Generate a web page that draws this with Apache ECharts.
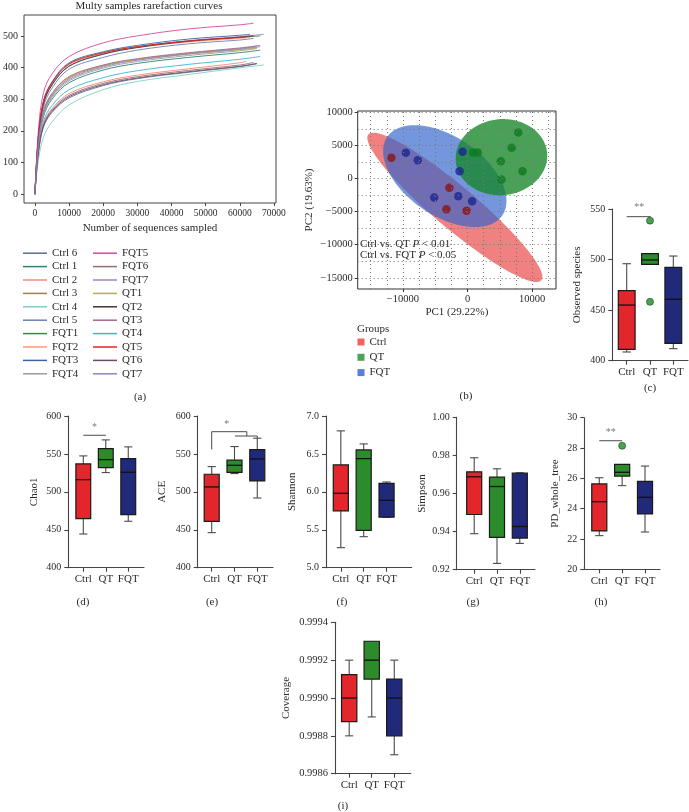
<!DOCTYPE html>
<html><head><meta charset="utf-8">
<script src="https://cdn.jsdelivr.net/npm/echarts@6/dist/echarts.min.js"></script>
<style>html,body{margin:0;padding:0;background:#fff}#c{width:689px;height:812px}</style>
</head><body><div id="c"></div>
<script>
// ===================== DATA =====================
// (a) rarefaction curves: sampled depths, then end depth per sample
const rareX = [0, 1000, 2500, 5000, 10000, 20000, 30000, 45000, 60000];
const rareNames = ['Ctrl 6','Ctrl 1','Ctrl 2','Ctrl 3','Ctrl 4','Ctrl 5','FQT1','FQT2','FQT3','FQT4',
                   'FQT5','FQT6','FQT7','QT1','QT2','QT3','QT4','QT5','QT6','QT7'];
const rareEndX = [65000,66000,62000,65000,67000,64000,66000,63000,63000,65000,
                  64000,64000,67000,65000,64000,66000,66000,62000,65000,66000];
const rareCtrl6 = [0,128,212,258,304,343,365,385,403,412];
const rareCtrl1 = [0,148,245,300,352,392,413,432,447,455];
const rareCtrl2 = [0,135,222,270,318,355,376,396,415,420];
const rareCtrl3 = [0,158,258,313,366,405,426,445,460,467];
const rareCtrl4 = [0,105,180,228,282,330,356,378,399,408];
const rareCtrl5 = [0,165,275,335,395,432,455,475,487,492];
const rareFQT1 = [0,178,290,350,410,446,466,484,495,500];
const rareFQT2 = [0,182,293,353,410,445,464,481,492,495];
const rareFQT3 = [0,180,295,355,415,450,470,490,502,505];
const rareFQT4 = [0,150,250,305,358,398,419,438,453,460];
const rareFQT5 = [0,200,320,380,435,478,500,522,535,540];
const rareFQT6 = [0,132,218,266,312,350,371,391,408,416];
const rareFQT7 = [0,175,285,345,405,443,465,485,498,505];
const rareQT1 = [0,160,262,318,372,407,425,442,456,462];
const rareQT2 = [0,172,285,345,404,442,463,483,496,500];
const rareQT3 = [0,160,262,318,370,408,428,447,462,470];
const rareQT4 = [0,140,230,280,330,368,390,410,426,435];
const rareQT5 = [0,180,292,352,412,447,466,484,495,497];
const rareQT6 = [0,130,215,262,308,346,367,387,404,413];
const rareQT7 = [0,155,255,310,362,402,423,443,458,466];
const rareValues = [rareCtrl6,rareCtrl1,rareCtrl2,rareCtrl3,rareCtrl4,rareCtrl5,rareFQT1,rareFQT2,rareFQT3,rareFQT4,
                    rareFQT5,rareFQT6,rareFQT7,rareQT1,rareQT2,rareQT3,rareQT4,rareQT5,rareQT6,rareQT7];
const rareXTicks = [0,10000,20000,30000,40000,50000,60000,70000];
const rareYTicks = [0,100,200,300,400,500];

// (b) PCA
const groupNames = ['Ctrl','QT','FQT'];
const pcaCtrl = [[-11786,3125],[-2806,-1411],[-3265,-4637],[-153,-4889]];
const pcaQT = [[867,3931],[1582,3931],[5153,2621],[6837,4637],[7857,6956],[8520,1109],[5255,-151]];
const pcaFQT = [[-9541,3881],[-7704,2772],[-5153,-2873],[-1429,-2671],[714,-3427],[-765,4032],[-1224,1109]];
// ellipses: [centerX, centerY, semiMajor, semiMinor, angleDeg]
const ellCtrl = [-1960,-4360,17340,3200,-39.4];
const ellFQT = [-3520,353,10700,6000,-33];
const ellQT = [5255,3226,7100,5740,5];
const pcaXTicks = [-10000,0,10000];
const pcaYTicks = [-15000,-10000,-5000,0,5000,10000];
const pcaGridX = [-15000,-12500,-10000,-7500,-5000,-2500,0,2500,5000,7500,10000,12500];
const pcaGridY = [-15000,-12500,-10000,-7500,-5000,-2500,0,2500,5000,7500,10000];

// box stats: [min, Q1, median, Q3, max] for Ctrl, QT, FQT
const obsStats = [[408.6,411.2,455,469.2,495.9],[495.3,495.3,499.6,505.8,505.8],[411.9,417.1,460.7,492.3,503.5]];
const obsOutliers = [[2,538.5],[2,458.2]];
const chaoStats = [[444.4,464.7,516.1,536.8,547.4],[525.4,532,542.5,557,568.5],[461.2,470,525.8,543.9,559.3]];
const aceStats = [[446.2,461.2,506.5,523.2,533.3],[524.1,525.8,535,541.7,559.7],[491.9,514.4,543.4,555.7,570.7]];
const shannonStats = [[5.264,5.748,5.981,6.355,6.804],[5.409,5.493,6.438,6.553,6.632],[5.664,5.668,5.888,6.113,6.130]];
const simpsonStats = [[0.9389,0.949,0.9688,0.9714,0.9788],[0.9233,0.937,0.9637,0.9686,0.973],[0.9338,0.9366,0.9427,0.9707,0.9709]];
const pdStats = [[22.22,22.53,24.46,25.63,26.04],[25.52,26.15,26.40,26.92,26.92],[22.46,23.65,24.75,25.80,26.81]];
const pdOutliers = [[2,28.15]];
const covStats = [[0.99880,0.998875,0.99900,0.999123,0.99920],[0.99890,0.99910,0.99920,0.99930,0.99930],[0.99870,0.99880,0.99900,0.99910,0.99920]];

// significance annotations
const obsSig = [[[1,542.4],[2.03,542.4]]]; const obsStar = [[1.54,551.7,'**']];
const chaoSig = [[[1,574.6],[2,574.6]]]; const chaoStar = [[1.5,585.5,'*']];
const aceSig = [[[1,556],[1,579.3],[2.54,579.3],[2.54,573.6]],[[2.02,573.6],[3,573.6],[3,571]]]; const aceStar = [[1.66,589.5,'*']];
const pdSig = [[[1,28.48],[2,28.48]]]; const pdStar = [[1.5,29.06,'**']];

// ===================== STYLE =====================
const FONT = '"Liberation Serif","DejaVu Serif",serif';
const TXT = '#2a2a2a';
const rareColors = ['#5d6b8c','#2e8570','#f08a78','#a07a5a','#7fd1bf','#6f7fb3','#3c8a4a','#ff9a70','#3b64a8','#9c9c9c',
                    '#d6499a','#9c6b6b','#9a86c4','#b7b13a','#4a3030','#a8698a','#3cb4d8','#e0251f','#6a4a6a','#8a86c8'];
const boxColors = ['#e3262b','#2c8c2c','#20297a'];

const grids = [], xAxes = [], yAxes = [], series = [];

// ---------- (a) ----------
grids.push({left:23, top:15, width:253, height:188, show:true, borderColor:'#444', borderWidth:1, backgroundColor:'transparent'});
xAxes.push({gridIndex:0, type:'value', min:-3200, max:70600,
  name:'Number of sequences sampled', nameLocation:'middle', nameGap:20,
  nameTextStyle:{fontFamily:FONT, fontSize:11, color:TXT},
  axisLine:{show:false, onZero:false}, splitLine:{show:false},
  axisTick:{show:true, length:3, customValues:rareXTicks, lineStyle:{color:'#444'}},
  axisLabel:{customValues:rareXTicks, formatter:v=>String(v), fontFamily:FONT, fontSize:9.5, color:TXT, margin:5}});
yAxes.push({gridIndex:0, type:'value', min:-28, max:566,
  axisLine:{show:false, onZero:false}, splitLine:{show:false},
  axisTick:{show:true, length:3, customValues:rareYTicks, lineStyle:{color:'#444'}},
  axisLabel:{customValues:rareYTicks, formatter:v=>String(v), fontFamily:FONT, fontSize:10, color:TXT, margin:6}});
rareNames.forEach((n,i)=>{
  const xs = rareX.concat([rareEndX[i]]);
  series.push({type:'line', name:n, xAxisIndex:0, yAxisIndex:0,
    data: xs.map((x,j)=>[x, rareValues[i][j]]),
    smooth:0.35, showSymbol:false, symbol:'none',
    lineStyle:{width:0.9, color:rareColors[i]}, itemStyle:{color:rareColors[i]}});
});

// ---------- (b) ----------
grids.push({left:357.7, top:111, width:198.3, height:178, show:true, borderColor:'#333', borderWidth:1, backgroundColor:'transparent'});
const fmtMinus = v => v < 0 ? '\u2212' + String(-v) : String(v);
xAxes.push({gridIndex:1, type:'value', min:-17000, max:13700,
  name:'PC1 (29.22%)', nameLocation:'middle', nameGap:18,
  nameTextStyle:{fontFamily:FONT, fontSize:11, color:TXT},
  axisLine:{show:false, onZero:false}, splitLine:{show:false},
  axisTick:{show:true, length:3, customValues:pcaXTicks, lineStyle:{color:'#333'}},
  axisLabel:{customValues:pcaXTicks, formatter:fmtMinus, fontFamily:FONT, fontSize:10.5, color:TXT, margin:5}});
yAxes.push({gridIndex:1, type:'value', min:-16700, max:10200,
  name:'PC2 (19.63%)', nameLocation:'middle', nameGap:43,
  nameTextStyle:{fontFamily:FONT, fontSize:11, color:TXT},
  axisLine:{show:false, onZero:false}, splitLine:{show:false},
  axisTick:{show:true, length:3, customValues:pcaYTicks, lineStyle:{color:'#333'}},
  axisLabel:{customValues:pcaYTicks, formatter:fmtMinus, fontFamily:FONT, fontSize:10.5, color:TXT, margin:5}});
// dotted grid
series.push({type:'scatter', xAxisIndex:1, yAxisIndex:1, data:[], silent:true, z:1,
  markLine:{silent:true, symbol:['none','none'], label:{show:false}, animation:false,
    lineStyle:{type:[1,3], color:'#777', width:1},
    data: pcaGridX.map(v=>({xAxis:v})).concat(pcaGridY.map(v=>({yAxis:v})))}});
function ellipseSeries(params, fill, z){
  return {type:'custom', xAxisIndex:1, yAxisIndex:1, z:z, silent:true, data:[params],
    renderItem:(p, api)=>{
      const cx=api.value(0), cy=api.value(1), a=api.value(2), b=api.value(3), ang=api.value(4)*Math.PI/180;
      const pts=[];
      for(let k=0;k<96;k++){
        const t=k/96*2*Math.PI;
        const x=cx + a*Math.cos(t)*Math.cos(ang) - b*Math.sin(t)*Math.sin(ang);
        const y=cy + a*Math.cos(t)*Math.sin(ang) + b*Math.sin(t)*Math.cos(ang);
        pts.push(api.coord([x,y]));
      }
      return {type:'polygon', shape:{points:pts}, style:{fill:fill}};
    }};
}
series.push(ellipseSeries(ellCtrl,'rgba(234,70,70,0.68)',2));
series.push(ellipseSeries(ellFQT,'rgba(50,100,205,0.68)',2));
series.push(ellipseSeries(ellQT,'rgba(20,135,40,0.78)',2));
const dotSeries = (name,data,color)=>({type:'scatter', name:name, xAxisIndex:1, yAxisIndex:1, data:data, z:4,
  symbolSize:8.5, itemStyle:{color:color}});
series.push(dotSeries('Ctrl',pcaCtrl,'#8a1414'));
series.push(dotSeries('QT',pcaQT,'#0b7a1e'));
series.push(dotSeries('FQT',pcaFQT,'#1c2690'));

// ---------- box panels ----------
function boxRender(halfW, capHalf){
  return (params, api)=>{
    const x=api.value(0), mn=api.value(1), q1=api.value(2), md=api.value(3), q3=api.value(4), mx=api.value(5);
    const tl=api.coord([x-halfW,q3]), br=api.coord([x+halfW,q1]);
    const top=api.coord([x,mx]), bot=api.coord([x,mn]), q3p=api.coord([x,q3]), q1p=api.coord([x,q1]);
    const ml=api.coord([x-halfW,md]), mr=api.coord([x+halfW,md]);
    const cl=api.coord([x-capHalf,mx])[0], cr=api.coord([x+capHalf,mx])[0];
    const ws={stroke:'#4a4a4a', lineWidth:1.1};
    const ch=[];
    if (mx > q3) { ch.push({type:'line', shape:{x1:top[0],y1:top[1],x2:q3p[0],y2:q3p[1]}, style:ws});
                   ch.push({type:'line', shape:{x1:cl,y1:top[1],x2:cr,y2:top[1]}, style:ws}); }
    if (mn < q1) { ch.push({type:'line', shape:{x1:bot[0],y1:bot[1],x2:q1p[0],y2:q1p[1]}, style:ws});
                   ch.push({type:'line', shape:{x1:cl,y1:bot[1],x2:cr,y2:bot[1]}, style:ws}); }
    ch.push({type:'rect', shape:{x:tl[0], y:tl[1], width:br[0]-tl[0], height:br[1]-tl[1]},
             style:{fill:boxColors[params.dataIndex], stroke:'#1a1a1a', lineWidth:1.2}});
    ch.push({type:'line', shape:{x1:ml[0],y1:ml[1],x2:mr[0],y2:mr[1]}, style:{stroke:'#111', lineWidth:1.3}});
    return {type:'group', children:ch};
  };
}
function boxPanel(p){
  const gi = grids.length;
  grids.push({left:p.left, top:p.top, width:p.right-p.left, height:p.bottom-p.top, show:false});
  xAxes.push({gridIndex:gi, type:'value', min:p.xmin, max:p.xmax, splitLine:{show:false},
    axisLine:{show:true, onZero:false, lineStyle:{color:'#444', width:1.1}},
    axisTick:{show:true, length:4, customValues:[1,2,3], lineStyle:{color:'#444', width:1.1}},
    axisLabel:{customValues:[1,2,3], formatter:v=>groupNames[Math.round(v)-1], fontFamily:FONT, fontSize:11, color:TXT, margin:6}});
  yAxes.push({gridIndex:gi, type:'value', min:p.ymin, max:p.ymax, interval:p.yint, splitLine:{show:false},
    name:p.name, nameLocation:'middle', nameGap:p.nameGap,
    nameTextStyle:{fontFamily:FONT, fontSize:11, color:TXT},
    axisLine:{show:true, onZero:false, lineStyle:{color:'#444', width:1.1}},
    axisTick:{show:true, length:4, lineStyle:{color:'#444', width:1.1}},
    axisLabel:{formatter:v=>v.toFixed(p.dec), fontFamily:FONT, fontSize:p.fs||10, color:TXT, margin:7}});
  series.push({type:'custom', xAxisIndex:gi, yAxisIndex:gi, z:3, silent:true,
    data:p.stats.map((s,i)=>[i+1].concat(s)), encode:{x:0, y:[1,2,3,4,5]},
    renderItem:boxRender(p.half, p.cap)});
  if (p.outliers) series.push({type:'scatter', xAxisIndex:gi, yAxisIndex:gi, z:4, silent:true, clip:false,
    data:p.outliers, symbolSize:7, itemStyle:{color:'#1f8a2a', borderColor:'#0d4d14', borderWidth:0.8}});
  (p.sig||[]).forEach(pts=>series.push({type:'line', xAxisIndex:gi, yAxisIndex:gi, data:pts, symbol:'none', silent:true, clip:false,
    lineStyle:{color:'#4a4a4a', width:1}, z:4}));
  (p.star||[]).forEach(s=>series.push({type:'scatter', xAxisIndex:gi, yAxisIndex:gi, silent:true, z:4, clip:false,
    data:[[s[0],s[1]]], symbolSize:1, itemStyle:{color:'rgba(0,0,0,0)'},
    label:{show:true, position:'inside', formatter:s[2], fontFamily:FONT, fontSize:10, color:'#555'}}));
}
boxPanel({left:612.3, right:688, top:209, bottom:360.7, xmin:0.382, xmax:3.63, ymin:400, ymax:550, yint:50, dec:0,
  name:'Observed species', nameGap:30, stats:obsStats, outliers:obsOutliers, half:0.36, cap:0.18, sig:obsSig, star:obsStar});
boxPanel({left:68.3, right:144, top:416, bottom:567.7, xmin:0.333, xmax:3.70, ymin:400, ymax:600, yint:50, dec:0,
  name:'Chao1', nameGap:29, stats:chaoStats, half:0.33, cap:0.18, sig:chaoSig, star:chaoStar});
boxPanel({left:197.7, right:273, top:416, bottom:567.7, xmin:0.385, xmax:3.69, ymin:400, ymax:600, yint:50, dec:0,
  name:'ACE', nameGap:30, stats:aceStats, half:0.33, cap:0.18, sig:aceSig, star:aceStar});
boxPanel({left:326, right:411.7, top:416, bottom:567.7, xmin:0.352, xmax:4.10, ymin:5.0, ymax:7.0, yint:0.5, dec:1,
  name:'Shannon', nameGap:28, stats:shannonStats, half:0.33, cap:0.18});
boxPanel({left:456.7, right:535, top:417.4, bottom:569.7, xmin:0.232, xmax:3.667, ymin:0.92, ymax:1.00, yint:0.02, dec:2,
  name:'Simpson', nameGap:29, stats:simpsonStats, half:0.33, cap:0.18});
boxPanel({left:584.3, right:660, top:417.7, bottom:569.3, xmin:0.344, xmax:3.656, ymin:20, ymax:30, yint:2, dec:0,
  name:'PD_whole_tree', nameGap:24, stats:pdStats, outliers:pdOutliers, half:0.33, cap:0.18, sig:pdSig, star:pdStar});
boxPanel({left:335, right:410.7, top:622.3, bottom:773.7, xmin:0.37, xmax:3.73, ymin:0.9986, ymax:0.9994, yint:0.0002, dec:4,
  name:'Coverage', nameGap:43, stats:covStats, half:0.34, cap:0.18, fs:10.5});

// ---------- free text ----------
const txt = (x,y,t,align,size)=>({type:'text', x:x, y:y, silent:true,
  style:{text:t, fill:TXT, font:(size||11)+'px '+FONT, textAlign:align||'center', textVerticalAlign:'middle'}});
const graphics = [
  txt(149,6,'Multy samples rarefaction curves','center',11),
  txt(140,397,'(a)'), txt(466,396,'(b)'), txt(650,388,'(c)'),
  txt(83,602,'(d)'), txt(212,602,'(e)'), txt(342,602,'(f)'), txt(473,602,'(g)'), txt(601,602,'(h)'),
  txt(343,806,'(i)'),
  txt(357,329,'Groups','left',11),
  {type:'text', x:360, y:244, silent:true, z:10, style:{text:'{n|Ctrl vs. QT }{i|P}{n| < 0.01}', textVerticalAlign:'middle',
    rich:{n:{fontFamily:FONT, fontSize:11, fill:TXT}, i:{fontFamily:FONT, fontSize:11, fontStyle:'italic', fill:TXT}}}},
  {type:'text', x:360, y:255.5, silent:true, z:10, style:{text:'{n|Ctrl vs. FQT }{i|P}{n| < 0.05}', textVerticalAlign:'middle',
    rich:{n:{fontFamily:FONT, fontSize:11, fill:TXT}, i:{fontFamily:FONT, fontSize:11, fontStyle:'italic', fill:TXT}}}}
];

const legendText = {fontFamily:FONT, fontSize:11, color:TXT, lineHeight:13.4};
const option = {
  animation:false,
  backgroundColor:'#fff',
  grid:grids, xAxis:xAxes, yAxis:yAxes, series:series, graphic:graphics,
  legend:[
    {data:rareNames.slice(0,10), left:23, top:246.5, orient:'vertical', padding:0, icon:'rect', itemWidth:24, itemHeight:1.5,
     itemGap:0, itemTextGap:4, selectedMode:false, textStyle:legendText},
    {data:rareNames.slice(10), left:93, top:246.5, orient:'vertical', padding:0, icon:'rect', itemWidth:24, itemHeight:1.5,
     itemGap:0, itemTextGap:4, selectedMode:false, textStyle:legendText},
    {data:[{name:'Ctrl', itemStyle:{color:'#f03a3a'}},{name:'QT', itemStyle:{color:'#1f8c2a'}},{name:'FQT', itemStyle:{color:'#3060d0'}}],
     left:357.5, top:336, orient:'vertical', padding:0, icon:'rect', itemWidth:7, itemHeight:7, itemGap:3.3, itemTextGap:6,
     selectedMode:false, textStyle:{fontFamily:FONT, fontSize:11, color:TXT, lineHeight:12}}
  ]
};
const chart = echarts.init(document.getElementById('c'), null, {renderer:'canvas'});
chart.setOption(option);
</script></body></html>
